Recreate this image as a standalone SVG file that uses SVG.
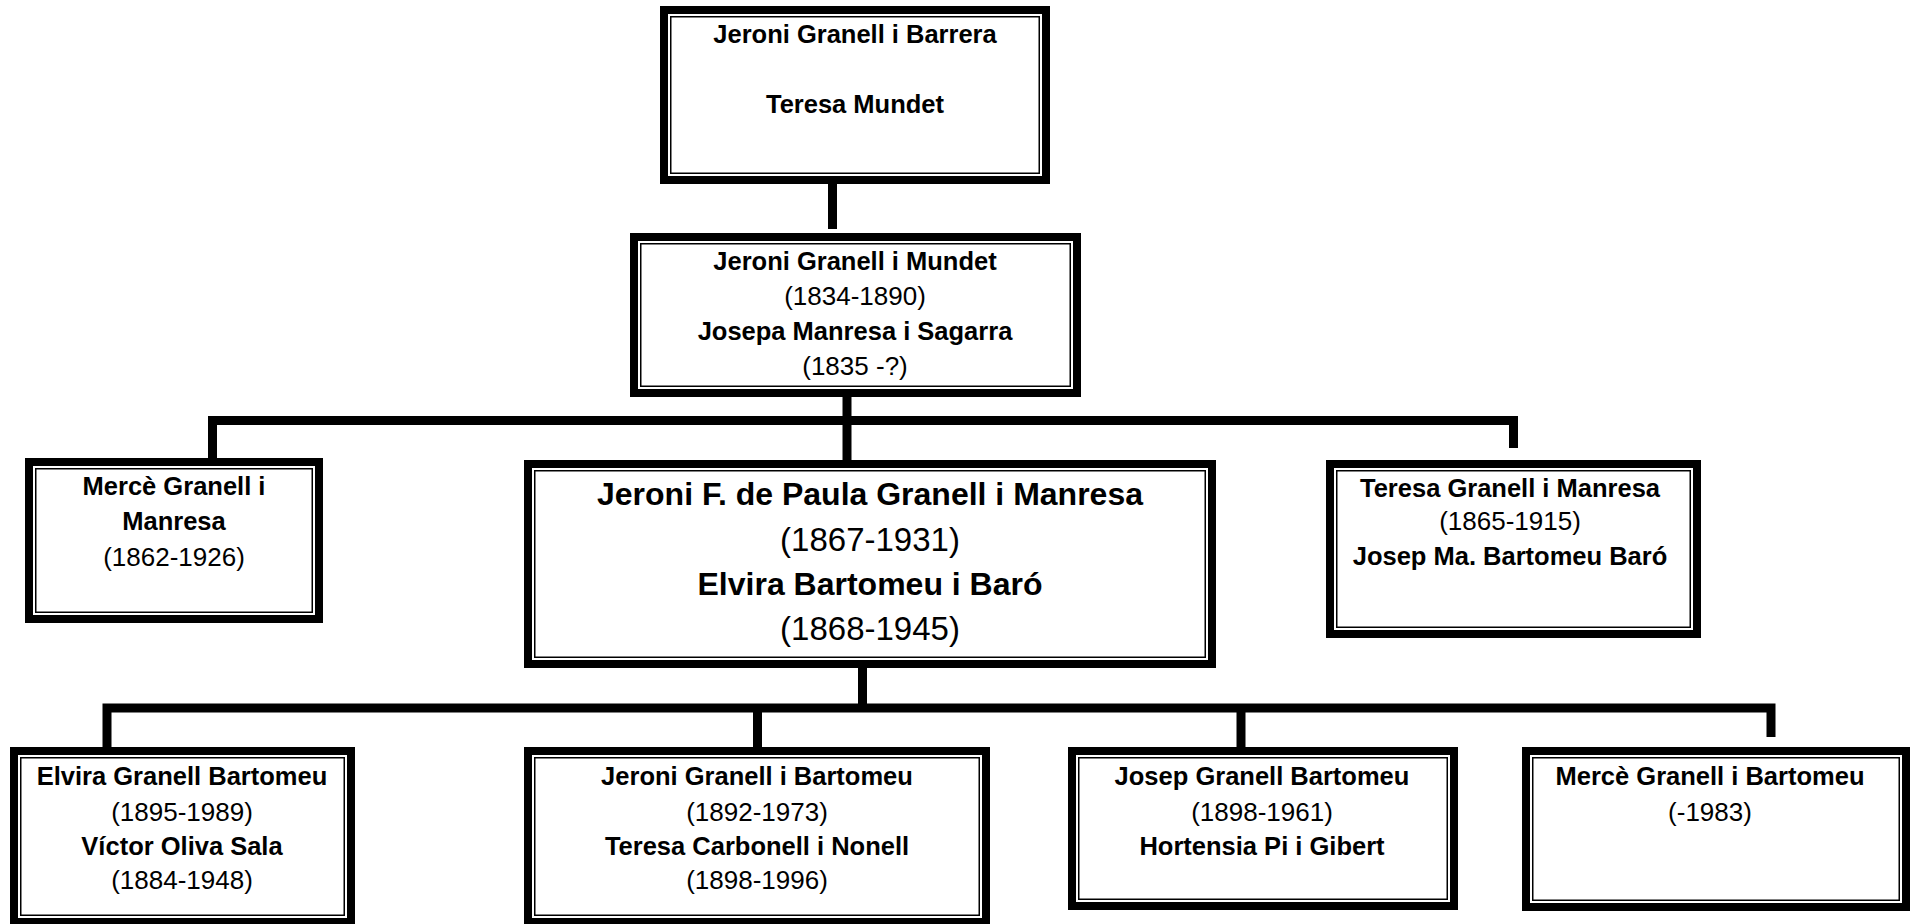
<svg xmlns="http://www.w3.org/2000/svg" width="1917" height="924" viewBox="0 0 1917 924">
<style>
.outer{fill:#fff;stroke:#000;stroke-width:8}
.inner{fill:none;stroke:#000;stroke-width:1.5}
.b{font-family:"Liberation Sans",Arial,sans-serif;font-weight:bold;font-size:25.5px;text-anchor:middle;fill:#000}
.r{font-family:"Liberation Sans",Arial,sans-serif;font-size:26px;text-anchor:middle;fill:#000}
.bl{font-size:32px}
.rl{font-size:33px}
.conn{fill:none;stroke:#000;stroke-width:9;stroke-linejoin:miter;stroke-linecap:butt}
</style>
<rect x="0" y="0" width="1917" height="924" fill="#fff"/>
<g id="connectors">
<path class="conn" d="M832.5,184 V229"/>
<path class="conn" d="M212.5,458 V420.5 H1513.5 V448"/>
<path class="conn" d="M847,397 V460"/>
<path class="conn" d="M107,747 V708 H1771 V737"/>
<path class="conn" d="M862.5,668 V708"/>
<path class="conn" d="M757.5,708 V747"/>
<path class="conn" d="M1241,708 V747"/>
</g>
<g id="n-barrera">
<rect class="outer" x="664" y="10" width="382" height="170"/>
<rect class="inner" x="670.75" y="16.75" width="368.5" height="156.5"/>
<text class="b" x="855" y="43">Jeroni Granell i Barrera</text>
<text class="b" x="855" y="113">Teresa Mundet</text>
</g>
<g id="n-mundet">
<rect class="outer" x="634" y="237" width="443" height="156"/>
<rect class="inner" x="640.75" y="243.75" width="429.5" height="142.5"/>
<text class="b" x="855" y="270">Jeroni Granell i Mundet</text>
<text class="r" x="855" y="305">(1834-1890)</text>
<text class="b" x="855" y="340">Josepa Manresa i Sagarra</text>
<text class="r" x="855" y="375">(1835 -?)</text>
</g>
<g id="n-merce">
<rect class="outer" x="29" y="462" width="290" height="157"/>
<rect class="inner" x="35.75" y="468.75" width="276.5" height="143.5"/>
<text class="b" x="174" y="495">Mercè Granell i</text>
<text class="b" x="174" y="530">Manresa</text>
<text class="r" x="174" y="566">(1862-1926)</text>
</g>
<g id="n-jeronif">
<rect class="outer" x="528" y="464" width="684" height="200"/>
<rect class="inner" x="534.75" y="470.75" width="670.5" height="186.5"/>
<text class="b bl" x="870" y="505">Jeroni F. de Paula Granell i Manresa</text>
<text class="r rl" x="870" y="551">(1867-1931)</text>
<text class="b bl" x="870" y="595">Elvira Bartomeu i Baró</text>
<text class="r rl" x="870" y="640">(1868-1945)</text>
</g>
<g id="n-teresa">
<rect class="outer" x="1330" y="464" width="367" height="170"/>
<rect class="inner" x="1336.75" y="470.75" width="353.5" height="156.5"/>
<text class="b" x="1510" y="497">Teresa Granell i Manresa</text>
<text class="r" x="1510" y="530">(1865-1915)</text>
<text class="b" x="1510" y="565">Josep Ma. Bartomeu Baró</text>
</g>
<g id="n-elvira">
<rect class="outer" x="14" y="751" width="337" height="171"/>
<rect class="inner" x="20.75" y="757.75" width="323.5" height="157.5"/>
<text class="b" x="182" y="785">Elvira Granell Bartomeu</text>
<text class="r" x="182" y="821">(1895-1989)</text>
<text class="b" x="182" y="855">Víctor Oliva Sala</text>
<text class="r" x="182" y="889">(1884-1948)</text>
</g>
<g id="n-jeronib">
<rect class="outer" x="528" y="751" width="458" height="171"/>
<rect class="inner" x="534.75" y="757.75" width="444.5" height="157.5"/>
<text class="b" x="757" y="785">Jeroni Granell i Bartomeu</text>
<text class="r" x="757" y="821">(1892-1973)</text>
<text class="b" x="757" y="855">Teresa Carbonell i Nonell</text>
<text class="r" x="757" y="889">(1898-1996)</text>
</g>
<g id="n-josep">
<rect class="outer" x="1072" y="751" width="382" height="155"/>
<rect class="inner" x="1078.75" y="757.75" width="368.5" height="141.5"/>
<text class="b" x="1262" y="785">Josep Granell Bartomeu</text>
<text class="r" x="1262" y="821">(1898-1961)</text>
<text class="b" x="1262" y="855">Hortensia Pi i Gibert</text>
</g>
<g id="n-merceb">
<rect class="outer" x="1526" y="751" width="380" height="156"/>
<rect class="inner" x="1532.75" y="757.75" width="366.5" height="142.5"/>
<text class="b" x="1710" y="785">Mercè Granell i Bartomeu</text>
<text class="r" x="1710" y="821">(-1983)</text>
</g>
</svg>
